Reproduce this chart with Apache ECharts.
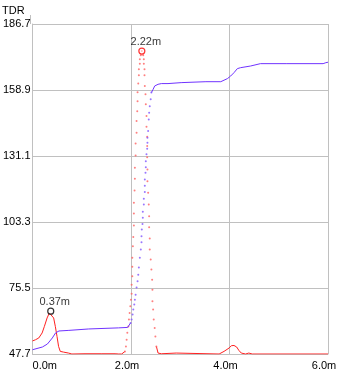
<!DOCTYPE html>
<html><head><meta charset="utf-8">
<script src="https://cdn.jsdelivr.net/npm/echarts@6/dist/echarts.min.js"></script>
<style>html,body{margin:0;padding:0;background:#fff}#c{width:348px;height:380px}</style>
</head><body><div id="c"></div>
<script>
const yTickLabels = ['47.7', '75.5', '103.3', '131.1', '158.9', '186.7'];
const xTickLabels = ['0.0m', '2.0m', '4.0m', '6.0m'];
const yMin = 47.7, yMax = 186.7, yStep = 27.8;
const xMin = 0, xMax = 6, xStep = 2;

const blueTrace = [
  [0.000, 49.5], [0.201, 50.65], [0.302, 51.9], [0.402, 54.45], [0.469, 56.6], [0.537, 57.4],
  [0.738, 57.65], [1.141, 58.25], [1.744, 58.7], [1.932, 58.9], [1.958, 59.1], [1.992, 60.8],
  [2.012, 62.2], [2.032, 64.3], [2.046, 66.4], [2.066, 68.5], [2.078, 70.6], [2.093, 72.7],
  [2.113, 75.7], [2.133, 78.3], [2.147, 81.1], [2.159, 84.1], [2.179, 88.2], [2.199, 91.7],
  [2.213, 94.8], [2.213, 97.3], [2.219, 100.1], [2.233, 102.5], [2.239, 105.1], [2.239, 107.6],
  [2.260, 110.7], [2.260, 113.1], [2.280, 115.9], [2.280, 118.6], [2.280, 121.2], [2.294, 124.0],
  [2.300, 126.4], [2.300, 128.9], [2.314, 131.8], [2.328, 134.2], [2.334, 136.7], [2.334, 138.8],
  [2.348, 141.6], [2.360, 146.5], [2.368, 149.3], [2.380, 152.1], [2.400, 155.0], [2.414, 157.8],
  [2.449, 159.2], [2.481, 160.6], [2.549, 161.3], [2.616, 161.6], [2.751, 161.6], [3.018, 162.0],
  [3.521, 162.4], [3.823, 162.4], [3.958, 163.7], [4.024, 164.8], [4.091, 166.2], [4.159, 167.9],
  [4.225, 168.3], [4.427, 169.0], [4.628, 170.0], [5.165, 170.0], [5.901, 170.0], [5.956, 170.4],
  [6.000, 170.6]
];

const redTrace = [
  [0.000, 53.2], [0.060, 53.7], [0.127, 54.45], [0.195, 56.56], [0.241, 59.34], [0.296, 62.88],
  [0.342, 64.99], [0.370, 65.75], [0.429, 62.88], [0.463, 59.34], [0.497, 55.12], [0.529, 50.9],
  [0.563, 48.8], [0.630, 48.5], [0.730, 48.1], [0.799, 47.7], [1.066, 47.8], [1.408, 47.8],
  [1.676, 47.8], [1.710, 48.1], [1.750, 47.7], [1.811, 47.7], [1.877, 48.8], [1.897, 50.9],
  [1.911, 53.7], [1.925, 56.6], [1.946, 59.3], [1.958, 62.2], [1.972, 65.0], [1.986, 67.8],
  [1.998, 70.6], [2.012, 73.1], [2.012, 76.9], [2.026, 80.4], [2.026, 84.4], [2.026, 88.2],
  [2.038, 93.1], [2.046, 97.0], [2.058, 101.8], [2.058, 106.9], [2.058, 111.4], [2.072, 116.6],
  [2.078, 121.5], [2.078, 126.1], [2.093, 131.3], [2.093, 136.4], [2.113, 140.9], [2.113, 145.8],
  [2.127, 150.0], [2.133, 154.2], [2.133, 158.0], [2.147, 161.6], [2.159, 165.1], [2.159, 167.6],
  [2.179, 170.0], [2.179, 171.8], [2.199, 173.5], [2.219, 175.3], [2.247, 173.5], [2.260, 171.8],
  [2.260, 170.0], [2.274, 167.6], [2.274, 165.1], [2.280, 160.6], [2.294, 157.1], [2.300, 152.9],
  [2.314, 147.9], [2.314, 143.4], [2.328, 139.2], [2.328, 135.3], [2.328, 130.6], [2.334, 125.4],
  [2.334, 120.5], [2.348, 115.6], [2.360, 110.7], [2.368, 105.7], [2.368, 101.1], [2.380, 96.3],
  [2.380, 91.7], [2.400, 87.5], [2.414, 83.3], [2.429, 79.0], [2.435, 74.8], [2.435, 69.9],
  [2.449, 66.4], [2.461, 62.2], [2.481, 58.7], [2.495, 55.1], [2.515, 50.9], [2.549, 48.1],
  [2.616, 47.8], [2.918, 48.1], [2.958, 47.7], [3.789, 47.7], [3.889, 48.8], [3.990, 50.2],
  [4.038, 51.2], [4.091, 51.3], [4.145, 50.65], [4.191, 49.2], [4.239, 48.1], [4.279, 47.6],
  [4.326, 47.7], [4.392, 48.1], [4.461, 47.7], [6.000, 47.7]
];

const peakMarks = [[0.37, 65.75], [2.22, 175.3]];
const peakLabels = ['0.37m', '2.22m'];
const peakColors = ['#000000', '#ff0000'];

function build(trace) {
  const line = [], dots = [];
  const steep = i => {
    const a = trace[i], b = trace[i + 1];
    const dm = b[0] - a[0], dv = Math.abs(b[1] - a[1]);
    return dv > 1.2 && dm < 0.03;
  };
  for (let i = 0; i < trace.length; i++) {
    const p = [trace[i][0], trace[i][1] - yMin];
    line.push(p);
    const sNext = i < trace.length - 1 && steep(i);
    const sPrev = i > 0 && steep(i - 1);
    if (sNext) line.push([(trace[i][0] + trace[i + 1][0]) / 2, '-']);
    if (sNext || sPrev) dots.push(p);
  }
  return { line, dots };
}
const red = build(redTrace);
const blue = build(blueTrace);

const font = 'Liberation Sans, Arial, sans-serif';
const gridColor = '#c0c0c0';

const chart = echarts.init(document.getElementById('c'), null, { renderer: 'canvas' });
chart.setOption({
  animation: false,
  backgroundColor: '#ffffff',
  grid: { left: 30, right: 20, top: 24, bottom: 26, containLabel: false },
  xAxis: {
    type: 'value', min: xMin, max: xMax, interval: xStep,
    axisLine: { show: true, lineStyle: { color: gridColor, width: 1 } },
    axisTick: { show: false },
    splitLine: { show: true, lineStyle: { color: gridColor, width: 1 } },
    axisLabel: {
      color: '#000', fontFamily: font, fontSize: 11, margin: 6,
      padding: [0, 8, 0, 0], alignMinLabel: 'left',
      formatter: (v, i) => xTickLabels[i] !== undefined ? xTickLabels[i] : ''
    }
  },
  yAxis: {
    type: 'value', min: 0, max: yMax - yMin, interval: yStep,
    axisLine: { show: true, lineStyle: { color: gridColor, width: 1 } },
    axisTick: { show: false },
    splitLine: { show: true, lineStyle: { color: gridColor, width: 1 } },
    axisLabel: {
      color: '#000', fontFamily: font, fontSize: 11, margin: 2, padding: [0, 0, 3, 0],
      formatter: (v, i) => yTickLabels[i] !== undefined ? yTickLabels[i] : ''
    }
  },
  graphic: [
    { type: 'text', left: 2, top: 5, style: { text: 'TDR', fill: '#000', font: '11px ' + font } },
    { type: 'line', shape: { x1: 30.5, y1: 15, x2: 30.5, y2: 24 }, style: { stroke: gridColor, lineWidth: 1 } }
  ],
  series: [
    { type: 'line', data: red.line, showSymbol: false, connectNulls: false,
      lineStyle: { color: '#ff2020', width: 1 }, z: 3 },
    { type: 'scatter', data: red.dots, symbol: 'circle', symbolSize: 2,
      itemStyle: { color: '#ff6060' }, z: 3 },
    { type: 'line', data: blue.line, showSymbol: false, connectNulls: false,
      lineStyle: { color: '#7033ff', width: 1 }, z: 4 },
    { type: 'scatter', data: blue.dots, symbol: 'circle', symbolSize: 2,
      itemStyle: { color: '#8055ff' }, z: 4 },
    { type: 'scatter', z: 6,
      data: peakMarks.map((p, i) => ({
        value: [p[0], p[1] - yMin],
        itemStyle: { color: 'rgba(255,255,255,0.6)', borderColor: peakColors[i], borderWidth: 1.2 },
        label: { show: true, formatter: peakLabels[i] }
      })),
      symbol: 'circle', symbolSize: 6,
      label: { position: 'top', distance: 1, offset: [4, 1], color: '#000', fontFamily: font, fontSize: 11 }
    }
  ]
});
</script>
</body></html>
